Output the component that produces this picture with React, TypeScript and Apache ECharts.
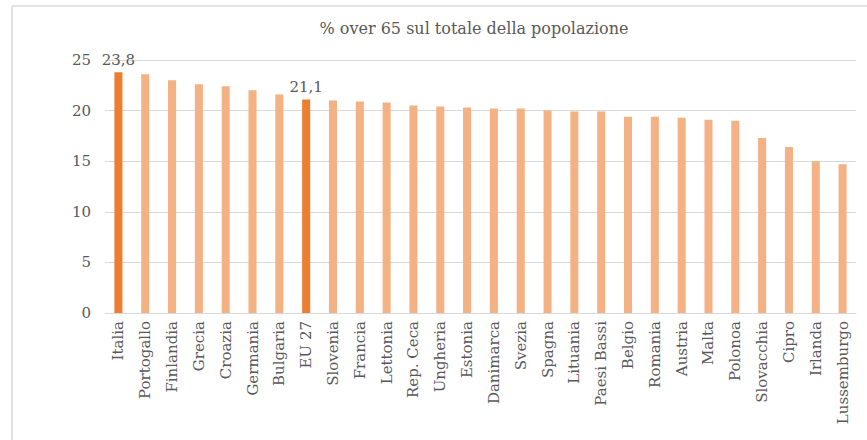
import React, { useEffect, useRef } from "react";
import * as echarts from "echarts";

const categories = [
  "Italia", "Portogallo", "Finlandia", "Grecia", "Croazia", "Germania", "Bulgaria", "EU 27",
  "Slovenia", "Francia", "Lettonia", "Rep. Ceca", "Ungheria", "Estonia", "Danimarca", "Svezia",
  "Spagna", "Lituania", "Paesi Bassi", "Belgio", "Romania", "Austria", "Malta", "Polonoa",
  "Slovacchia", "Cipro", "Irlanda", "Lussemburgo",
];
const values = [
  23.8, 23.6, 23.0, 22.6, 22.4, 22.0, 21.6, 21.1,
  21.0, 20.9, 20.8, 20.5, 20.4, 20.3, 20.2, 20.2,
  20.0, 19.9, 19.9, 19.4, 19.4, 19.3, 19.1, 19.0,
  17.3, 16.4, 15.0, 14.7,
];
const highlighted = ["Italia", "EU 27"];
const titleText = "% over 65 sul totale della popolazione";

const FONT = "DejaVu Serif";
const DARK = "#ED7D31";
const LIGHT = "#F4B183";
const TEXT = "#595959";

export default function App() {
  const ref = useRef<HTMLDivElement>(null);
  useEffect(() => {
    if (!ref.current) return;
    const chart = echarts.init(ref.current, undefined, { renderer: "svg" });
    chart.setOption({
      animation: false,
      backgroundColor: "#ffffff",
      textStyle: { fontFamily: FONT },
      title: {
        text: titleText,
        left: 469,
        top: 15,
        textAlign: "center",
        textStyle: { fontFamily: FONT, fontSize: 16, fontWeight: "normal", color: TEXT },
      },
      graphic: [
        { type: "line", shape: { x1: 12, y1: 6, x2: 867, y2: 6 }, style: { stroke: "#E3E3E3", lineWidth: 2 } },
        { type: "line", shape: { x1: 12, y1: 6, x2: 12, y2: 440 }, style: { stroke: "#E3E3E3", lineWidth: 2 } },
      ],
      grid: { left: 105, right: 11, top: 60, bottom: 127, containLabel: false },
      xAxis: {
        type: "category",
        data: categories,
        axisLine: { lineStyle: { color: "#D9D9D9" } },
        axisTick: { show: false },
        axisLabel: {
          rotate: 90,
          interval: 0,
          margin: 8,
          fontFamily: FONT,
          fontSize: 15,
          color: TEXT,
        },
      },
      yAxis: {
        type: "value",
        min: 0,
        max: 25,
        interval: 5,
        axisLine: { show: false },
        axisTick: { show: false },
        splitLine: { lineStyle: { color: "#D9D9D9" } },
        axisLabel: { fontFamily: FONT, fontSize: 15, color: TEXT, margin: 14 },
      },
      series: [
        {
          type: "bar",
          barWidth: "30%",
          data: values.map((v, i) => {
            const hi = highlighted.includes(categories[i]);
            return {
              value: v,
              itemStyle: { color: hi ? DARK : LIGHT },
              label: hi
                ? {
                    show: true,
                    position: "top",
                    distance: 5,
                    formatter: (p: any) => String(p.value).replace(".", ","),
                    fontFamily: FONT,
                    fontSize: 15,
                    color: TEXT,
                  }
                : { show: false },
            };
          }),
        },
      ],
    });
    return () => chart.dispose();
  }, []);
  return (
    <div
      ref={ref}
      style={{ position: "fixed", left: 0, top: 0, width: 867, height: 440, background: "#fff" }}
    />
  );
}
